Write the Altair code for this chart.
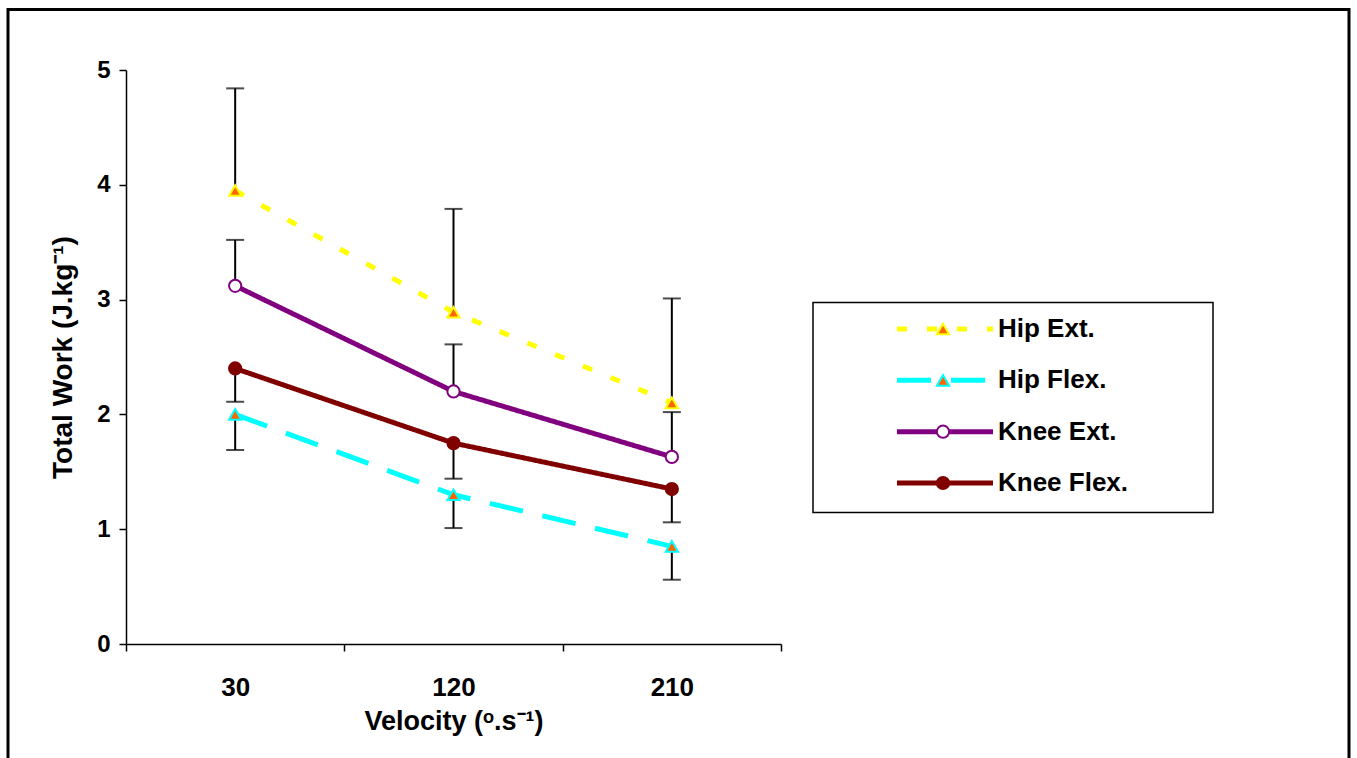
import json
import altair as alt
import pandas as pd

# ---------------- data ----------------
velocities = ["30", "120", "210"]
series = ["Hip Ext.", "Hip Flex.", "Knee Ext.", "Knee Flex."]

hip_ext = [3.95, 2.89, 2.10]
hip_flex = [2.00, 1.30, 0.85]
knee_ext = [3.12, 2.20, 1.63]
knee_flex = [2.40, 1.75, 1.35]

# end points of the error bars (upper for extension, lower for flexion)
hip_ext_err = [4.84, 3.79, 3.01]
hip_flex_err = [1.69, 1.01, 0.56]
knee_ext_err = [3.52, 2.61, 2.02]
knee_flex_err = [2.11, 1.44, 1.06]

y_ticks = [0, 1, 2, 3, 4, 5]

# ---------------- styles ----------------
stroke_colors = ["#FFFF00", "#00FFFF", "#800080", "#800000"]
fill_colors = ["#FF6600", "#FF6600", "#FFFFFF", "#800000"]
shapes = ["triangle-up", "triangle-up", "circle", "circle"]
sizes = [150, 150, 45, 100]
dashes = [[10, 20], [34, 20], [1, 0], [1, 0]]
FONT = "Liberation Sans"

W, H = 655, 574

rows = []
for s, vals, errs in [
    (series[0], hip_ext, hip_ext_err),
    (series[1], hip_flex, hip_flex_err),
    (series[2], knee_ext, knee_ext_err),
    (series[3], knee_flex, knee_flex_err),
]:
    for i, v in enumerate(velocities):
        rows.append({"series": s, "velocity": v, "idx": i, "value": vals[i], "err": errs[i]})
df = pd.DataFrame(rows)
leg_df = pd.DataFrame({"series": series, "row": list(range(len(series)))})
one = pd.DataFrame({"a": [0]})

stroke_enc = alt.Stroke("series:N", scale=alt.Scale(domain=series, range=stroke_colors), legend=None)
fill_enc = alt.Fill("series:N", scale=alt.Scale(domain=series, range=fill_colors), legend=None)
shape_enc = alt.Shape("series:N", scale=alt.Scale(domain=series, range=shapes), legend=None)
size_enc = alt.Size("series:N", scale=alt.Scale(domain=series, range=sizes), legend=None)
dash_enc = alt.StrokeDash("series:N", scale=alt.Scale(domain=series, range=dashes), legend=None)

label_expr = json.dumps(velocities) + "[round(datum.value + 0.5)] || ''"

x_axis = alt.Axis(
    values=[-0.5, 0.5, 1.5, 2.5],
    labelExpr=label_expr,
    labelOffset=W / 6,
    labelFlush=False,
    labelOverlap=False,
    labelFont=FONT,
    labelFontSize=26,
    labelFontWeight="bold",
    labelColor="black",
    labelPadding=23,
    tickSize=7,
    tickWidth=1.5,
    tickColor="black",
    domainColor="black",
    domainWidth=1.5,
    grid=False,
    title="Velocity (ᵒ.s⁻¹)",
    titleFont=FONT,
    titleFontSize=27,
    titleFontWeight="bold",
    titleColor="black",
    titleBaseline="middle",
    titleY=77,
)
y_axis = alt.Axis(
    values=y_ticks,
    format="d",
    labelFont=FONT,
    labelFontSize=24,
    labelFontWeight="bold",
    labelColor="black",
    labelPadding=9,
    tickSize=7,
    tickWidth=1.5,
    tickColor="black",
    domainColor="black",
    domainWidth=1.5,
    grid=False,
    title="Total Work (J.kg⁻¹)",
    titleFont=FONT,
    titleFontSize=28,
    titleFontWeight="bold",
    titleColor="black",
    titleAngle=270,
    titleAlign="center",
    titleBaseline="middle",
    titleX=-63,
    titleY=287,
)

x_enc = alt.X("idx:Q", scale=alt.Scale(domain=[-0.5, 2.5]), axis=x_axis)
x_plain = alt.X("idx:Q", scale=alt.Scale(domain=[-0.5, 2.5]))
y_enc = alt.Y("value:Q", scale=alt.Scale(domain=[0, 5]), axis=y_axis)

base = alt.Chart(df)

lines = base.mark_line(strokeWidth=5).encode(
    x=x_enc, y=y_enc, stroke=stroke_enc, strokeDash=dash_enc
)
err_rules = base.mark_rule(color="black", strokeWidth=2).encode(
    x=x_plain, y=alt.Y("value:Q"), y2="err:Q"
)
err_caps = base.mark_tick(orient="horizontal", size=18, thickness=2, color="black").encode(
    x=x_plain, y=alt.Y("err:Q")
)
points = base.mark_point(filled=False, strokeWidth=2, opacity=1, fillOpacity=1).encode(
    x=x_plain, y=alt.Y("value:Q"), stroke=stroke_enc, fill=fill_enc, shape=shape_enc, size=size_enc
)
main = alt.layer(lines, err_rules, err_caps, points)

leg_y = alt.Y(
    "row:Q",
    scale=alt.Scale(domain=[0, len(series) - 1], range=[259, 413]),
    axis=None,
)
leg_base = alt.Chart(leg_df)
leg_rules = leg_base.mark_rule(strokeWidth=5).encode(
    y=leg_y, x=alt.value(771), x2=alt.value(867), stroke=stroke_enc, strokeDash=dash_enc
)
leg_points = leg_base.mark_point(filled=False, strokeWidth=2, opacity=1, fillOpacity=1).encode(
    y=leg_y, x=alt.value(817), stroke=stroke_enc, fill=fill_enc, shape=shape_enc, size=size_enc
)
leg_text = leg_base.mark_text(
    align="left", baseline="middle", font=FONT, fontSize=26, fontWeight="bold", color="black"
).encode(y=leg_y, x=alt.value(872), text="series:N")
legend = alt.layer(leg_rules, leg_points, leg_text)

frame = alt.Chart(one).mark_rect(fillOpacity=0, stroke="black", strokeWidth=3).encode(
    x=alt.value(-118), x2=alt.value(1223), y=alt.value(-60.5), y2=alt.value(720)
)
leg_box = alt.Chart(one).mark_rect(fillOpacity=0, stroke="black", strokeWidth=1.5).encode(
    x=alt.value(687), x2=alt.value(1087), y=alt.value(232.5), y2=alt.value(442.5)
)

chart = (
    alt.layer(frame, leg_box, main, legend)
    .resolve_scale(y="independent")
    .properties(
        width=W,
        height=H,
        autosize="none",
        padding={"left": 126, "top": 70, "right": 1357 - 126 - W, "bottom": 758 - 70 - H},
        background="white",
        view=alt.ViewBackground(stroke="transparent", strokeWidth=0),
    )
    .configure_view(stroke="transparent", strokeWidth=0)
    .configure(font=FONT)
)

chart.save("out.html", embed_options={"renderer": "svg", "actions": False})
